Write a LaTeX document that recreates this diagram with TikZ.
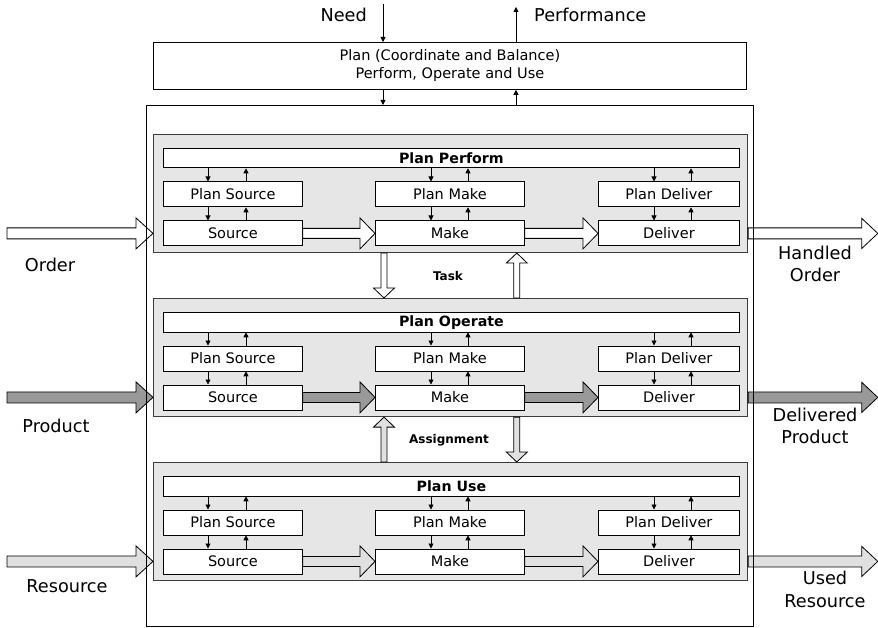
\documentclass[tikz,border=0pt]{standalone}
\usepackage{fontspec}
\setmainfont{DejaVu Sans}
\usetikzlibrary{calc,arrows.meta}

\definecolor{bandfill}{HTML}{E6E6E6}
\definecolor{bandline}{HTML}{3C3C3C}
\definecolor{darkarrow}{HTML}{999999}
\definecolor{lightarrow}{HTML}{E0E0E0}

\newcommand\dgBoxFont{\fontsize{14.5}{18}\selectfont}
\newcommand\dgBarFont{\bfseries\fontsize{14.2}{17}\selectfont}
\newcommand\dgLabelFont{\fontsize{17.7}{22.5}\selectfont}
\newcommand\dgTagFont{\bfseries\fontsize{12}{14}\selectfont}

% block arrow from #2 to #3: body half width #4, head half width #5, head length #6
\newcommand\dgBlockArrow[6][]{%
  \coordinate (ba-h) at ($(#3)!#6!(#2)$);
  \filldraw[blockarrow,#1]
    ($(#2)!#4!90:(#3)$) -- ($(ba-h)!#4!90:(#3)$) -- ($(ba-h)!#5!90:(#3)$) -- (#3)
    -- ($(ba-h)!#5!-90:(#3)$) -- ($(ba-h)!#4!-90:(#3)$) -- ($(#2)!#4!-90:(#3)$) -- cycle;}

\begin{document}
\begin{tikzpicture}[x=1pt,y=-1pt,
  box/.style={draw=black, fill=white, line width=0.8pt, inner sep=0pt, anchor=north west, font=\dgBoxFont},
  band/.style={draw=bandline, fill=bandfill, line width=1.1pt, inner sep=0pt, anchor=north west},
  blockarrow/.style={draw=black, line width=0.8pt, line join=miter},
  tick/.style={line width=0.8pt, -{Triangle[length=5pt,width=5pt]}},
  label/.style={font=\dgLabelFont, align=center, inner sep=0pt},
  tag/.style={font=\dgTagFont, inner sep=0pt}]

\useasboundingbox (0,0) rectangle (878,628);

% three planning bands: Perform, Operate, Use
\foreach \n/\T/\bt/\af in {1/134/Plan Perform/white, 2/298/Plan Operate/darkarrow, 3/462/Plan Use/lightarrow}{
  \node[band, minimum width=594pt, minimum height=118pt] (band\n) at (153,\T) {};
  \node[box, minimum width=576pt, minimum height=19.5pt, font=\dgBarFont] (bar\n) at (163,{\T+14}) {\bt};
  \node[box, minimum width=139pt, minimum height=25pt] (ps\n) at (163,{\T+47.5}) {Plan Source};
  \node[box, minimum width=149pt, minimum height=25pt] (pm\n) at (375,{\T+47.5}) {Plan Make};
  \node[box, minimum width=141pt, minimum height=25pt] (pd\n) at (598,{\T+47.5}) {Plan Deliver};
  \node[box, minimum width=139pt, minimum height=25pt] (ws\n) at (163,{\T+86.5}) {Source};
  \node[box, minimum width=149pt, minimum height=25pt] (wm\n) at (375,{\T+86.5}) {Make};
  \node[box, minimum width=141pt, minimum height=25pt] (wd\n) at (598,{\T+86.5}) {Deliver};
  % planning links between bar, plan boxes and execution boxes
  \foreach \c/\a/\b in {s/45/83, m/56/93, d/56/93}{
    \draw[tick] ([xshift=\a pt]p\c\n.north west |- bar\n.south) -- ([xshift=\a pt]p\c\n.north west);
    \draw[tick] ([xshift=\b pt]p\c\n.north west) -- ([xshift=\b pt]p\c\n.north west |- bar\n.south);
    \draw[tick] ([xshift=\a pt]p\c\n.south west) -- ([xshift=\a pt]p\c\n.south west |- w\c\n.north);
    \draw[tick] ([xshift=\b pt]p\c\n.south west |- w\c\n.north) -- ([xshift=\b pt]p\c\n.south west);
  }
  % flow through the chain
  \dgBlockArrow[fill=\af]{ws\n.east}{wm\n.west}{5pt}{15.5pt}{15pt}
  \dgBlockArrow[fill=\af]{wm\n.east}{wd\n.west}{5pt}{15.5pt}{15pt}
  % input and output flows
  \path (ws\n.west) ++(-156pt,0) coordinate (in\n);
  \coordinate (inEnd\n) at (band\n.west |- ws\n.west);
  \dgBlockArrow[fill=\af]{in\n}{inEnd\n}{5.5pt}{15.5pt}{17pt}
  \coordinate (outStart\n) at (band\n.east |- wd\n.east);
  \path (wd\n.east) ++(138pt,0) coordinate (out\n);
  \dgBlockArrow[fill=\af]{outStart\n}{out\n}{5.5pt}{15pt}{16pt}
}

% Task exchange between Perform and Operate
\coordinate (tdA) at ([xshift=9pt]wm1.south west |- band1.south);
\coordinate (tdB) at ([xshift=9pt]wm1.south west |- band2.north);
\dgBlockArrow[fill=white]{tdA}{tdB}{3pt}{10.5pt}{10pt}
\coordinate (tuA) at ([xshift=-8pt]wm1.south east |- band2.north);
\coordinate (tuB) at ([xshift=-8pt]wm1.south east |- band1.south);
\dgBlockArrow[fill=white]{tuA}{tuB}{3pt}{10.5pt}{10pt}
\node[tag] (task) at (448,276) {Task};

% Assignment exchange between Operate and Use
\coordinate (auA) at ([xshift=9pt]wm2.south west |- band3.north);
\coordinate (auB) at ([xshift=9pt]wm2.south west |- band2.south);
\dgBlockArrow[fill=lightarrow]{auA}{auB}{3pt}{10.5pt}{10pt}
\coordinate (adA) at ([xshift=-8pt]wm2.south east |- band2.south);
\coordinate (adB) at ([xshift=-8pt]wm2.south east |- band3.north);
\dgBlockArrow[fill=lightarrow]{adA}{adB}{3pt}{10.5pt}{10pt}
\node[tag] (assign) at (449,440) {Assignment};

% enclosing system and overall planning
\node[draw, line width=0.9pt, inner sep=0pt, anchor=north west,
      minimum width=607pt, minimum height=521pt] (outer) at (146,105) {};
\node[box, minimum width=593pt, minimum height=47pt, align=center] (plan) at (153,42)
  {Plan (Coordinate and Balance)\\Perform, Operate and Use};

\coordinate (needSrc) at (383,4);
\coordinate (perfDst) at (516,7);
\draw[tick] (needSrc) -- (needSrc |- plan.north);
\draw[tick] (perfDst |- plan.north) -- (perfDst);
\draw[tick] (plan.south -| needSrc) -- (outer.north -| needSrc);
\draw[tick] (outer.north -| perfDst) -- (plan.south -| perfDst);

% flow labels
\node[label, anchor=east] (need) at (367,15) {Need};
\node[label, anchor=west] (perf) at (534,15) {Performance};
\node[label] (order) at (50,265) {Order};
\node[label] (product) at (56,426) {Product};
\node[label] (resource) at (67,586) {Resource};
\node[label] (handled) at (815,264) {Handled\\Order};
\node[label] (delivered) at (815,426) {Delivered\\Product};
\node[label] (used) at (825,589.5) {Used\\Resource};
\end{tikzpicture}
\end{document}
